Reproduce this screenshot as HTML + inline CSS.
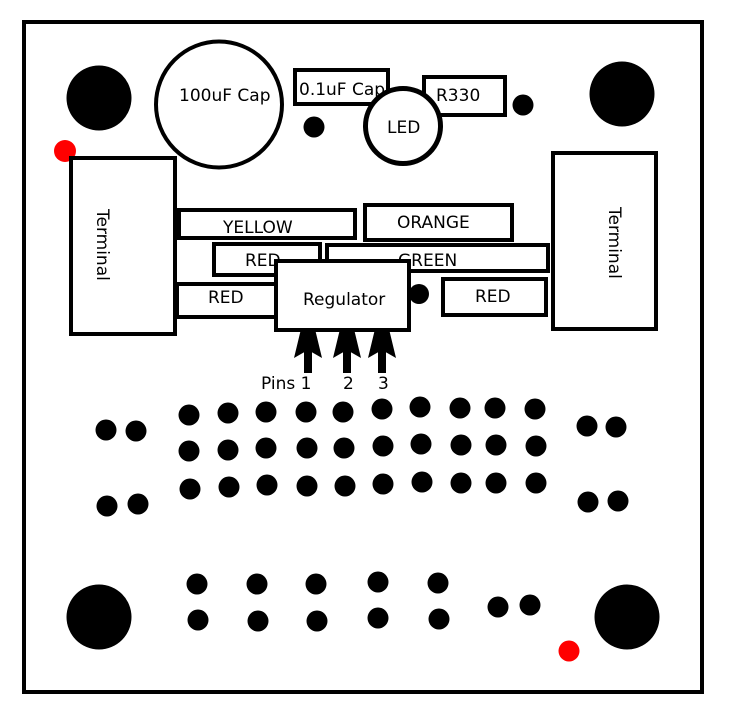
<!DOCTYPE html>
<html>
<head>
<meta charset="utf-8">
<style>
  html, body { margin:0; padding:0; background:#fff; }
  svg { display:block; }
  text { font-family: "DejaVu Sans", "Liberation Sans", sans-serif; font-size:17px; fill:#000; }
</style>
</head>
<body>
<svg width="748" height="717" viewBox="0 0 748 717" xmlns="http://www.w3.org/2000/svg">
  <rect x="0" y="0" width="748" height="717" fill="#fff"/>
  <rect x="24" y="22" width="678" height="670" fill="#fff" stroke="#000" stroke-width="4"/>

  <circle cx="99" cy="98" r="32.5" fill="#000"/>
  <circle cx="622" cy="94" r="32.5" fill="#000"/>
  <circle cx="99" cy="617" r="32.5" fill="#000"/>
  <circle cx="627" cy="617" r="32.5" fill="#000"/>

  <circle cx="65" cy="151" r="11" fill="#f00"/>
  <circle cx="569" cy="651" r="10.5" fill="#f00"/>

  <circle cx="219" cy="104.5" r="63" fill="#fff" stroke="#000" stroke-width="4"/>
  <text x="179" y="101">100uF Cap</text>

  <rect x="295" y="70" width="93" height="34" fill="#fff" stroke="#000" stroke-width="4"/>
  <text x="299" y="95">0.1uF Cap</text>

  <rect x="424" y="77" width="81" height="38" fill="#fff" stroke="#000" stroke-width="4"/>
  <text x="436" y="101">R330</text>

  <circle cx="403" cy="126" r="37.5" fill="#fff" stroke="#000" stroke-width="5"/>
  <text x="387" y="133">LED</text>

  <circle cx="314" cy="127" r="10.5" fill="#000"/>
  <circle cx="523" cy="105" r="10.5" fill="#000"/>

  <rect x="71" y="158" width="104" height="176" fill="#fff" stroke="#000" stroke-width="4"/>
  <text transform="translate(97,209) rotate(90)">Terminal</text>
  <rect x="553" y="153" width="103" height="176" fill="#fff" stroke="#000" stroke-width="4"/>
  <text transform="translate(609,207) rotate(90)">Terminal</text>

  <rect x="179" y="210" width="176" height="28" fill="#fff" stroke="#000" stroke-width="4"/>
  <text x="223" y="233">YELLOW</text>

  <rect x="365" y="205" width="147" height="35" fill="#fff" stroke="#000" stroke-width="4"/>
  <text x="397" y="228">ORANGE</text>

  <rect x="214" y="244" width="106" height="31" fill="#fff" stroke="#000" stroke-width="4"/>
  <text x="245" y="266">RED</text>

  <rect x="327" y="245" width="221" height="26" fill="#fff" stroke="#000" stroke-width="4"/>
  <text x="398" y="266">GREEN</text>

  <rect x="177" y="284" width="110" height="33" fill="#fff" stroke="#000" stroke-width="4"/>
  <text x="208" y="303">RED</text>

  <rect x="443" y="279" width="103" height="36" fill="#fff" stroke="#000" stroke-width="4"/>
  <text x="475" y="302">RED</text>

  <circle cx="419" cy="294" r="10" fill="#000"/>

  <g fill="#000">
    <rect x="304" y="340" width="8" height="33"/>
    <polygon points="308,300 322,358 308,350 294,358"/>
    <rect x="343" y="340" width="8" height="33"/>
    <polygon points="347,300 361,358 347,350 333,358"/>
    <rect x="378" y="340" width="8" height="33"/>
    <polygon points="382,300 396,358 382,350 368,358"/>
  </g>

  <rect x="276" y="261" width="133" height="69" fill="#fff" stroke="#000" stroke-width="4"/>
  <text x="303" y="305">Regulator</text>

  <text x="261" y="389">Pins 1</text>
  <text x="343" y="389">2</text>
  <text x="378" y="389">3</text>

  <g fill="#000">
    <circle cx="189" cy="415" r="10.5"/>
    <circle cx="228" cy="413" r="10.5"/>
    <circle cx="266" cy="412" r="10.5"/>
    <circle cx="306" cy="412" r="10.5"/>
    <circle cx="343" cy="412" r="10.5"/>
    <circle cx="382" cy="409" r="10.5"/>
    <circle cx="420" cy="407" r="10.5"/>
    <circle cx="460" cy="408" r="10.5"/>
    <circle cx="495" cy="408" r="10.5"/>
    <circle cx="535" cy="409" r="10.5"/>

    <circle cx="189" cy="451" r="10.5"/>
    <circle cx="228" cy="450" r="10.5"/>
    <circle cx="266" cy="448" r="10.5"/>
    <circle cx="307" cy="448" r="10.5"/>
    <circle cx="344" cy="448" r="10.5"/>
    <circle cx="383" cy="446" r="10.5"/>
    <circle cx="421" cy="444" r="10.5"/>
    <circle cx="461" cy="445" r="10.5"/>
    <circle cx="496" cy="445" r="10.5"/>
    <circle cx="536" cy="446" r="10.5"/>

    <circle cx="190" cy="489" r="10.5"/>
    <circle cx="229" cy="487" r="10.5"/>
    <circle cx="267" cy="485" r="10.5"/>
    <circle cx="307" cy="486" r="10.5"/>
    <circle cx="345" cy="486" r="10.5"/>
    <circle cx="383" cy="484" r="10.5"/>
    <circle cx="422" cy="482" r="10.5"/>
    <circle cx="461" cy="483" r="10.5"/>
    <circle cx="496" cy="483" r="10.5"/>
    <circle cx="536" cy="483" r="10.5"/>

    <circle cx="106" cy="430" r="10.5"/>
    <circle cx="136" cy="431" r="10.5"/>
    <circle cx="107" cy="506" r="10.5"/>
    <circle cx="138" cy="504" r="10.5"/>
    <circle cx="587" cy="426" r="10.5"/>
    <circle cx="616" cy="427" r="10.5"/>
    <circle cx="588" cy="502" r="10.5"/>
    <circle cx="618" cy="501" r="10.5"/>

    <circle cx="197" cy="584" r="10.5"/>
    <circle cx="257" cy="584" r="10.5"/>
    <circle cx="316" cy="584" r="10.5"/>
    <circle cx="378" cy="582" r="10.5"/>
    <circle cx="438" cy="583" r="10.5"/>
    <circle cx="198" cy="620" r="10.5"/>
    <circle cx="258" cy="621" r="10.5"/>
    <circle cx="317" cy="621" r="10.5"/>
    <circle cx="378" cy="618" r="10.5"/>
    <circle cx="439" cy="619" r="10.5"/>

    <circle cx="498" cy="607" r="10.5"/>
    <circle cx="530" cy="605" r="10.5"/>
  </g>
</svg>
</body>
</html>
